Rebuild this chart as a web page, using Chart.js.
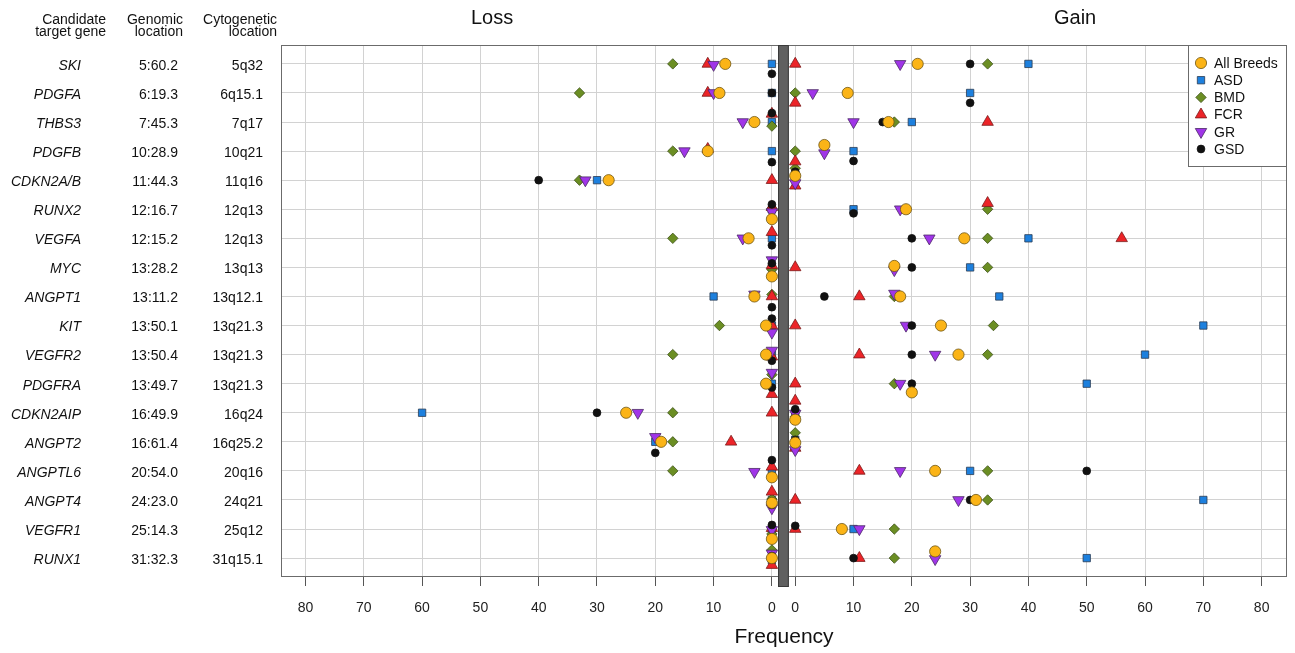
<!DOCTYPE html>
<html>
<head>
<meta charset="utf-8">
<script src="https://cdn.jsdelivr.net/npm/chart.js@4.4.1/dist/chart.umd.min.js"></script>
<style>
  html, body { margin: 0; padding: 0; background: #fff; }
  #chart { display: block; }
</style>
</head>
<body>
<canvas id="chart" width="1295" height="653"></canvas>
<script>
/* candidate genes, top to bottom */
const genes = ["SKI", "PDGFA", "THBS3", "PDGFB", "CDKN2A/B", "RUNX2", "VEGFA", "MYC", "ANGPT1",
  "KIT", "VEGFR2", "PDGFRA", "CDKN2AIP", "ANGPT2", "ANGPTL6", "ANGPT4", "VEGFR1", "RUNX1"];
const genomic = ["5:60.2", "6:19.3", "7:45.3", "10:28.9", "11:44.3", "12:16.7", "12:15.2", "13:28.2", "13:11.2",
  "13:50.1", "13:50.4", "13:49.7", "16:49.9", "16:61.4", "20:54.0", "24:23.0", "25:14.3", "31:32.3"];
const cyto = ["5q32", "6q15.1", "7q17", "10q21", "11q16", "12q13", "12q13", "13q13", "13q12.1",
  "13q21.3", "13q21.3", "13q21.3", "16q24", "16q25.2", "20q16", "24q21", "25q12", "31q15.1"];

const lossTicks = [80, 70, 60, 50, 40, 30, 20, 10, 0];
const gainTicks = [0, 10, 20, 30, 40, 50, 60, 70, 80];

/* frequencies (loss / gain) per breed, and the small vertical nudge (in rows) used to separate ties */
const allLoss = [8, 9, 3, 11, 28, 0, 4, 0, 3, 1, 1, 1, 25, 19, 0, 0, 0, 0];
const allLossDy = [0, 0, 0, 0, 0, 0.34, 0, 0.31, 0, 0, 0, 0, 0, 0, 0.22, 0.1, 0.34, 0];
const allGain = [21, 9, 16, 5, 0, 19, 29, 17, 18, 25, 28, 20, 0, 0, 24, 31, 8, 24];
const allGainDy = [0, 0, 0, -0.21, -0.15, 0, 0, -0.05, 0, 0, 0, 0.3, 0.24, 0.03, 0, 0, 0, -0.23];

const asdLoss = [0, 0, 0, 0, 30, 0, 0, 0, 10, 0, 0, 0, 60, 20, 0, 0, 0, 0];
const asdLossDy = [0, 0, 0, 0, 0, 0, 0, 0, 0, 0, 0, 0, 0, 0, 0, 0, 0, 0.07];
const asdGain = [40, 30, 20, 10, 0, 10, 40, 30, 35, 70, 60, 50, 0, 0, 30, 70, 10, 50];
const asdGainDy = [0, 0, 0, 0, -0.2, 0, 0, 0, 0, 0, 0, 0, 0, -0.07, 0, 0, 0, 0];

const bmdLoss = [17, 33, 0, 17, 33, 0, 17, 0, 0, 9, 17, 0, 17, 17, 17, 0, 0, 0];
const bmdLossDy = [0, 0, 0.14, 0, 0, -0.03, 0, 0.07, -0.07, 0, 0, -0.31, 0, 0, 0, -0.03, 0.17, -0.28];
const bmdGain = [33, 0, 17, 0, 0, 33, 33, 33, 17, 34, 33, 17, 0, 0, 33, 33, 17, 17];
const bmdGainDy = [0, 0, 0, 0, -0.41, 0, 0, 0, 0, 0, 0, 0, 0.14, -0.31, 0, 0, 0, 0];

const fcrLoss = [11, 11, 0, 11, 0, 0, 0, 0, 0, 0, 0, 0, 0, 7, 0, 0, 0, 0];
const fcrLossDy = [0, 0, -0.28, -0.07, 0, -0.07, -0.21, -0.07, 0, 0, 0.07, 0.36, 0, 0, -0.14, -0.28, -0.03, 0.24];
const fcrGain = [0, 0, 33, 0, 0, 33, 56, 0, 11, 0, 11, 0, 0, 0, 11, 0, 0, 11];
const fcrGainDy = [0, 0.34, 0, 0.36, 0.19, -0.21, 0, 0, 0, 0, 0, 0, -0.41, 0.21, 0, 0, 0, 0];

const grLoss = [10, 10, 5, 15, 32, 0, 5, 0, 3, 0, 0, 0, 23, 20, 3, 0, 0, 0];
const grLossDy = [0.03, 0, 0, 0, 0, 0.1, 0, -0.25, -0.07, 0.24, -0.14, -0.38, 0, -0.17, 0.03, 0.28, 0.03, -0.16];
const grGain = [18, 3, 10, 5, 0, 18, 23, 17, 17, 19, 24, 18, 0, 0, 18, 28, 11, 24];
const grGainDy = [0, 0, 0, 0.07, 0.1, 0, 0, 0.09, -0.1, 0, 0, 0, 0.03, 0.28, 0, 0, 0, 0.03];

const gsdLoss = [0, 0, 0, 0, 40, 0, 0, 0, 0, 0, 0, 0, 30, 20, 0, 0, 0, 0];
const gsdLossDy = [0.34, 0, -0.31, 0.38, 0, -0.17, 0.24, -0.14, 0.37, -0.24, 0.21, 0.13, 0, 0.38, -0.37, 0.17, -0.14, -0.07];
const gsdGain = [30, 30, 15, 10, 0, 10, 20, 20, 5, 20, 20, 20, 0, 0, 50, 30, 0, 10];
const gsdGainDy = [0, 0.34, 0, 0.34, -0.29, 0.14, 0, 0, 0, 0, 0, 0, -0.12, -0.07, 0, 0, -0.11, 0];

// loss is drawn to the left of the divider, gain to the right; SHIFT leaves room for the bar
const SHIFT = 2;

function points(loss, lossDy, gain, gainDy) {
  const pts = [];
  loss.forEach((v, i) => pts.push({ x: -v - SHIFT, y: i + lossDy[i] }));
  gain.forEach((v, i) => pts.push({ x: v + SHIFT, y: i + gainDy[i] }));
  return pts;
}

const series = [
  { label: "All Breeds", data: points(allLoss, allLossDy, allGain, allGainDy), style: "circle", r: 5.6, rot: 0, fill: "#FBB417", line: "#6e5714", order: 0 },
  { label: "ASD", data: points(asdLoss, asdLossDy, asdGain, asdGainDy), style: "rect", r: 5.2, rot: 0, fill: "#1D80DE", line: "#2b3b52", order: 5 },
  { label: "BMD", data: points(bmdLoss, bmdLossDy, bmdGain, bmdGainDy), style: "rectRot", r: 5.2, rot: 0, fill: "#6B8E23", line: "#3c5118", order: 4 },
  { label: "FCR", data: points(fcrLoss, fcrLossDy, fcrGain, fcrGainDy), style: "triangle", r: 6.6, rot: 0, fill: "#EC2428", line: "#7a1b1b", order: 3 },
  { label: "GR", data: points(grLoss, grLossDy, grGain, grGainDy), style: "triangle", r: 6.6, rot: 180, fill: "#A035E8", line: "#4b2a66", order: 2 },
  { label: "GSD", data: points(gsdLoss, gsdLossDy, gsdGain, gsdGainDy), style: "circle", r: 3.9, rot: 0, fill: "#111111", line: "#111111", order: 1 }
];

const FONT = "'Liberation Sans', Arial, Helvetica, sans-serif";

function marker(ctx, s, x, y) {
  ctx.fillStyle = s.fill;
  ctx.strokeStyle = s.line;
  ctx.lineWidth = 0.8;
  Chart.helpers.drawPoint(ctx, { pointStyle: s.style, radius: s.r, rotation: s.rot, borderWidth: 0.8 }, x, y);
}

const backdrop = {
  id: "backdrop",
  beforeDatasetsDraw(chart) {
    const { ctx, chartArea: a, scales: { x } } = chart;
    ctx.save();
    ctx.strokeStyle = "#6b6b6b";
    ctx.lineWidth = 1;
    ctx.strokeRect(a.left + 0.5, a.top + 0.5, a.width - 1, a.height - 1);
    const x0 = x.getPixelForValue(-0.95), x1 = x.getPixelForValue(0.9);
    ctx.fillStyle = "#606060";
    ctx.fillRect(x0, a.top, x1 - x0, a.height + 10);
    ctx.strokeStyle = "#3a3a3a";
    ctx.strokeRect(x0 + 0.5, a.top + 0.5, x1 - x0 - 1, a.height + 9);
    ctx.restore();
  }
};

const annotations = {
  id: "annotations",
  afterDraw(chart) {
    const { ctx, chartArea: a, scales: { x, y } } = chart;
    ctx.save();
    ctx.fillStyle = "#111";
    ctx.textBaseline = "middle";

    // Loss / Gain headings
    ctx.font = "20px " + FONT;
    ctx.textAlign = "center";
    ctx.fillText("Loss", x.getPixelForValue(-50), 18);
    ctx.fillText("Gain", x.getPixelForValue(50), 18);

    // column headings
    ctx.font = "14px " + FONT;
    ctx.textAlign = "right";
    ctx.fillText("Candidate", 106, 20);
    ctx.fillText("target gene", 106, 32);
    ctx.fillText("Genomic", 183, 20);
    ctx.fillText("location", 183, 32);
    ctx.fillText("Cytogenetic", 277, 20);
    ctx.fillText("location", 277, 32);

    genes.forEach((g, i) => {
      const py = y.getPixelForValue(i) + 2;
      ctx.font = "italic 14px " + FONT;
      ctx.fillText(g, 81, py);
      ctx.font = "14px " + FONT;
      ctx.fillText(genomic[i], 178, py);
      ctx.fillText(cyto[i], 263, py);
    });

    // legend box
    const lx = a.right - 99, ly = a.top, lw = 98, lh = 121;
    ctx.fillStyle = "#fff";
    ctx.fillRect(lx, ly, lw, lh);
    ctx.strokeStyle = "#6b6b6b";
    ctx.lineWidth = 1;
    ctx.strokeRect(lx + 0.5, ly + 0.5, lw, lh);
    series.forEach((s, i) => {
      const ey = ly + 18 + i * 17.2;
      marker(ctx, s, lx + 13, ey);
      ctx.fillStyle = "#111";
      ctx.font = "14px " + FONT;
      ctx.textAlign = "left";
      ctx.fillText(s.label, lx + 26, ey + 1);
    });
    ctx.restore();
  }
};

new Chart(document.getElementById("chart"), {
  type: "scatter",
  data: {
    datasets: series.map(s => ({
      label: s.label,
      data: s.data,
      order: s.order,
      pointStyle: s.style,
      pointRadius: s.r,
      pointHoverRadius: s.r,
      pointRotation: s.rot,
      pointBackgroundColor: s.fill,
      pointBorderColor: s.line,
      pointBorderWidth: 0.8,
      backgroundColor: s.fill,
      borderColor: s.line
    }))
  },
  options: {
    responsive: false,
    animation: false,
    devicePixelRatio: 1,
    layout: { padding: { left: 281, right: 8, top: 45, bottom: 0 } },
    plugins: { legend: { display: false }, tooltip: { enabled: false } },
    scales: {
      x: {
        type: "linear",
        min: -86.2,
        max: 86.35,
        afterBuildTicks: scale => {
          scale.ticks = lossTicks.map(v => ({ value: -v - SHIFT })).concat(gainTicks.map(v => ({ value: v + SHIFT })));
        },
        afterFit: scale => { scale.height = 76; },
        border: { display: false },
        grid: { color: "#d2d2d2", lineWidth: 1, tickColor: "#555", tickLength: 9 },
        ticks: {
          autoSkip: false,
          maxRotation: 0,
          padding: 14,
          color: "#222",
          font: { family: FONT, size: 14 },
          callback: v => Math.abs(v) - SHIFT
        },
        title: { display: true, text: "Frequency", color: "#111", font: { family: FONT, size: 21 }, padding: { top: 0, bottom: 3 } }
      },
      y: {
        type: "linear",
        reverse: true,
        min: -0.65,
        max: 17.65,
        afterBuildTicks: scale => { scale.ticks = genes.map((g, i) => ({ value: i })); },
        afterFit: scale => { scale.width = 0; },
        border: { display: false },
        grid: { color: "#d2d2d2", lineWidth: 1, drawTicks: false },
        ticks: { display: false }
      }
    }
  },
  plugins: [backdrop, annotations]
});
</script>
</body>
</html>
